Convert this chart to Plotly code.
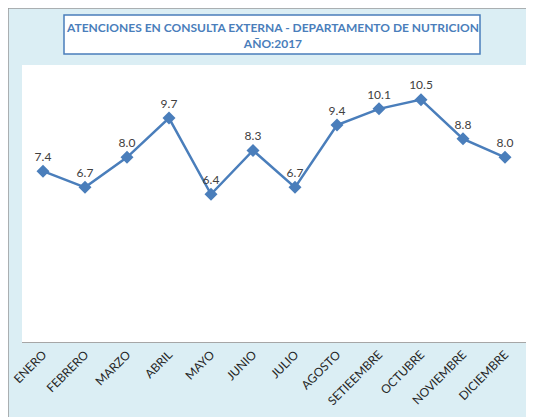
import plotly.graph_objects as go

meses = ['ENERO', 'FEBRERO', 'MARZO', 'ABRIL', 'MAYO', 'JUNIO', 'JULIO',
         'AGOSTO', 'SETIEEMBRE', 'OCTUBRE', 'NOVIEMBRE', 'DICIEMBRE']
atenciones = [7.4, 6.7, 8.0, 9.7, 6.4, 8.3, 6.7, 9.4, 10.1, 10.5, 8.8, 8.0]

azul = '#4a7ebb'
fondo = '#dbeef4'

# area de trazado en la pagina: x 22..526, y 65..342 (px)
# (la pagina tiene 8px de margen, por eso la figura es 8px mas chica)
W, H = 504, 277
def px(x):
    return (x - 22) / W
def py(y):
    return (342 - y) / H

fig = go.Figure()

fig.add_trace(go.Scatter(
    x=meses,
    y=atenciones,
    mode='lines+markers+text',
    line=dict(color=azul, width=2.5),
    marker=dict(symbol='diamond', size=10, color=azul),
    text=['%.1f' % v for v in atenciones],
    textposition='top center',
    textfont=dict(family='Lato', size=12, color='#404040'),
    cliponaxis=False,
    showlegend=False
))

# fondo celeste del grafico con borde gris
fig.add_shape(type='rect', xref='paper', yref='paper',
              x0=px(8), x1=px(540), y0=py(430), y1=py(8),
              fillcolor=fondo, line=dict(color='#9a9a9a', width=1.5),
              layer='below')
# area blanca
fig.add_shape(type='rect', xref='paper', yref='paper',
              x0=0, x1=1, y0=0, y1=1,
              fillcolor='white', line=dict(width=0),
              layer='below')
# recuadro del titulo
fig.add_shape(type='rect', xref='paper', yref='paper',
              x0=px(64), x1=px(480), y0=py(54), y1=py(15),
              fillcolor='white', line=dict(color=azul, width=1.5),
              layer='below')

fig.add_annotation(
    text='ATENCIONES EN CONSULTA EXTERNA - DEPARTAMENTO DE NUTRICION<br>AÑO:2017',
    xref='paper', yref='paper', x=px(272), y=py(35),
    xanchor='center', yanchor='middle', showarrow=False,
    font=dict(family='Lato', size=12, color=azul, weight='bold'),
    align='center'
)

fig.update_xaxes(
    range=[-0.5, len(meses) - 0.5],
    showline=True, linecolor='#a6a6a6', linewidth=1,
    showgrid=False, ticks='', tickangle=-45, automargin=False,
    tickfont=dict(family='Lato', size=12, color='#262626')
)
fig.update_yaxes(range=[0, 12], visible=False, showgrid=False,
                 automargin=False)

fig.update_layout(
    width=526, height=409,
    margin=dict(l=14, r=8, t=57, b=75),
    paper_bgcolor='white',
    plot_bgcolor='white'
)

fig.write_html('out.html')
